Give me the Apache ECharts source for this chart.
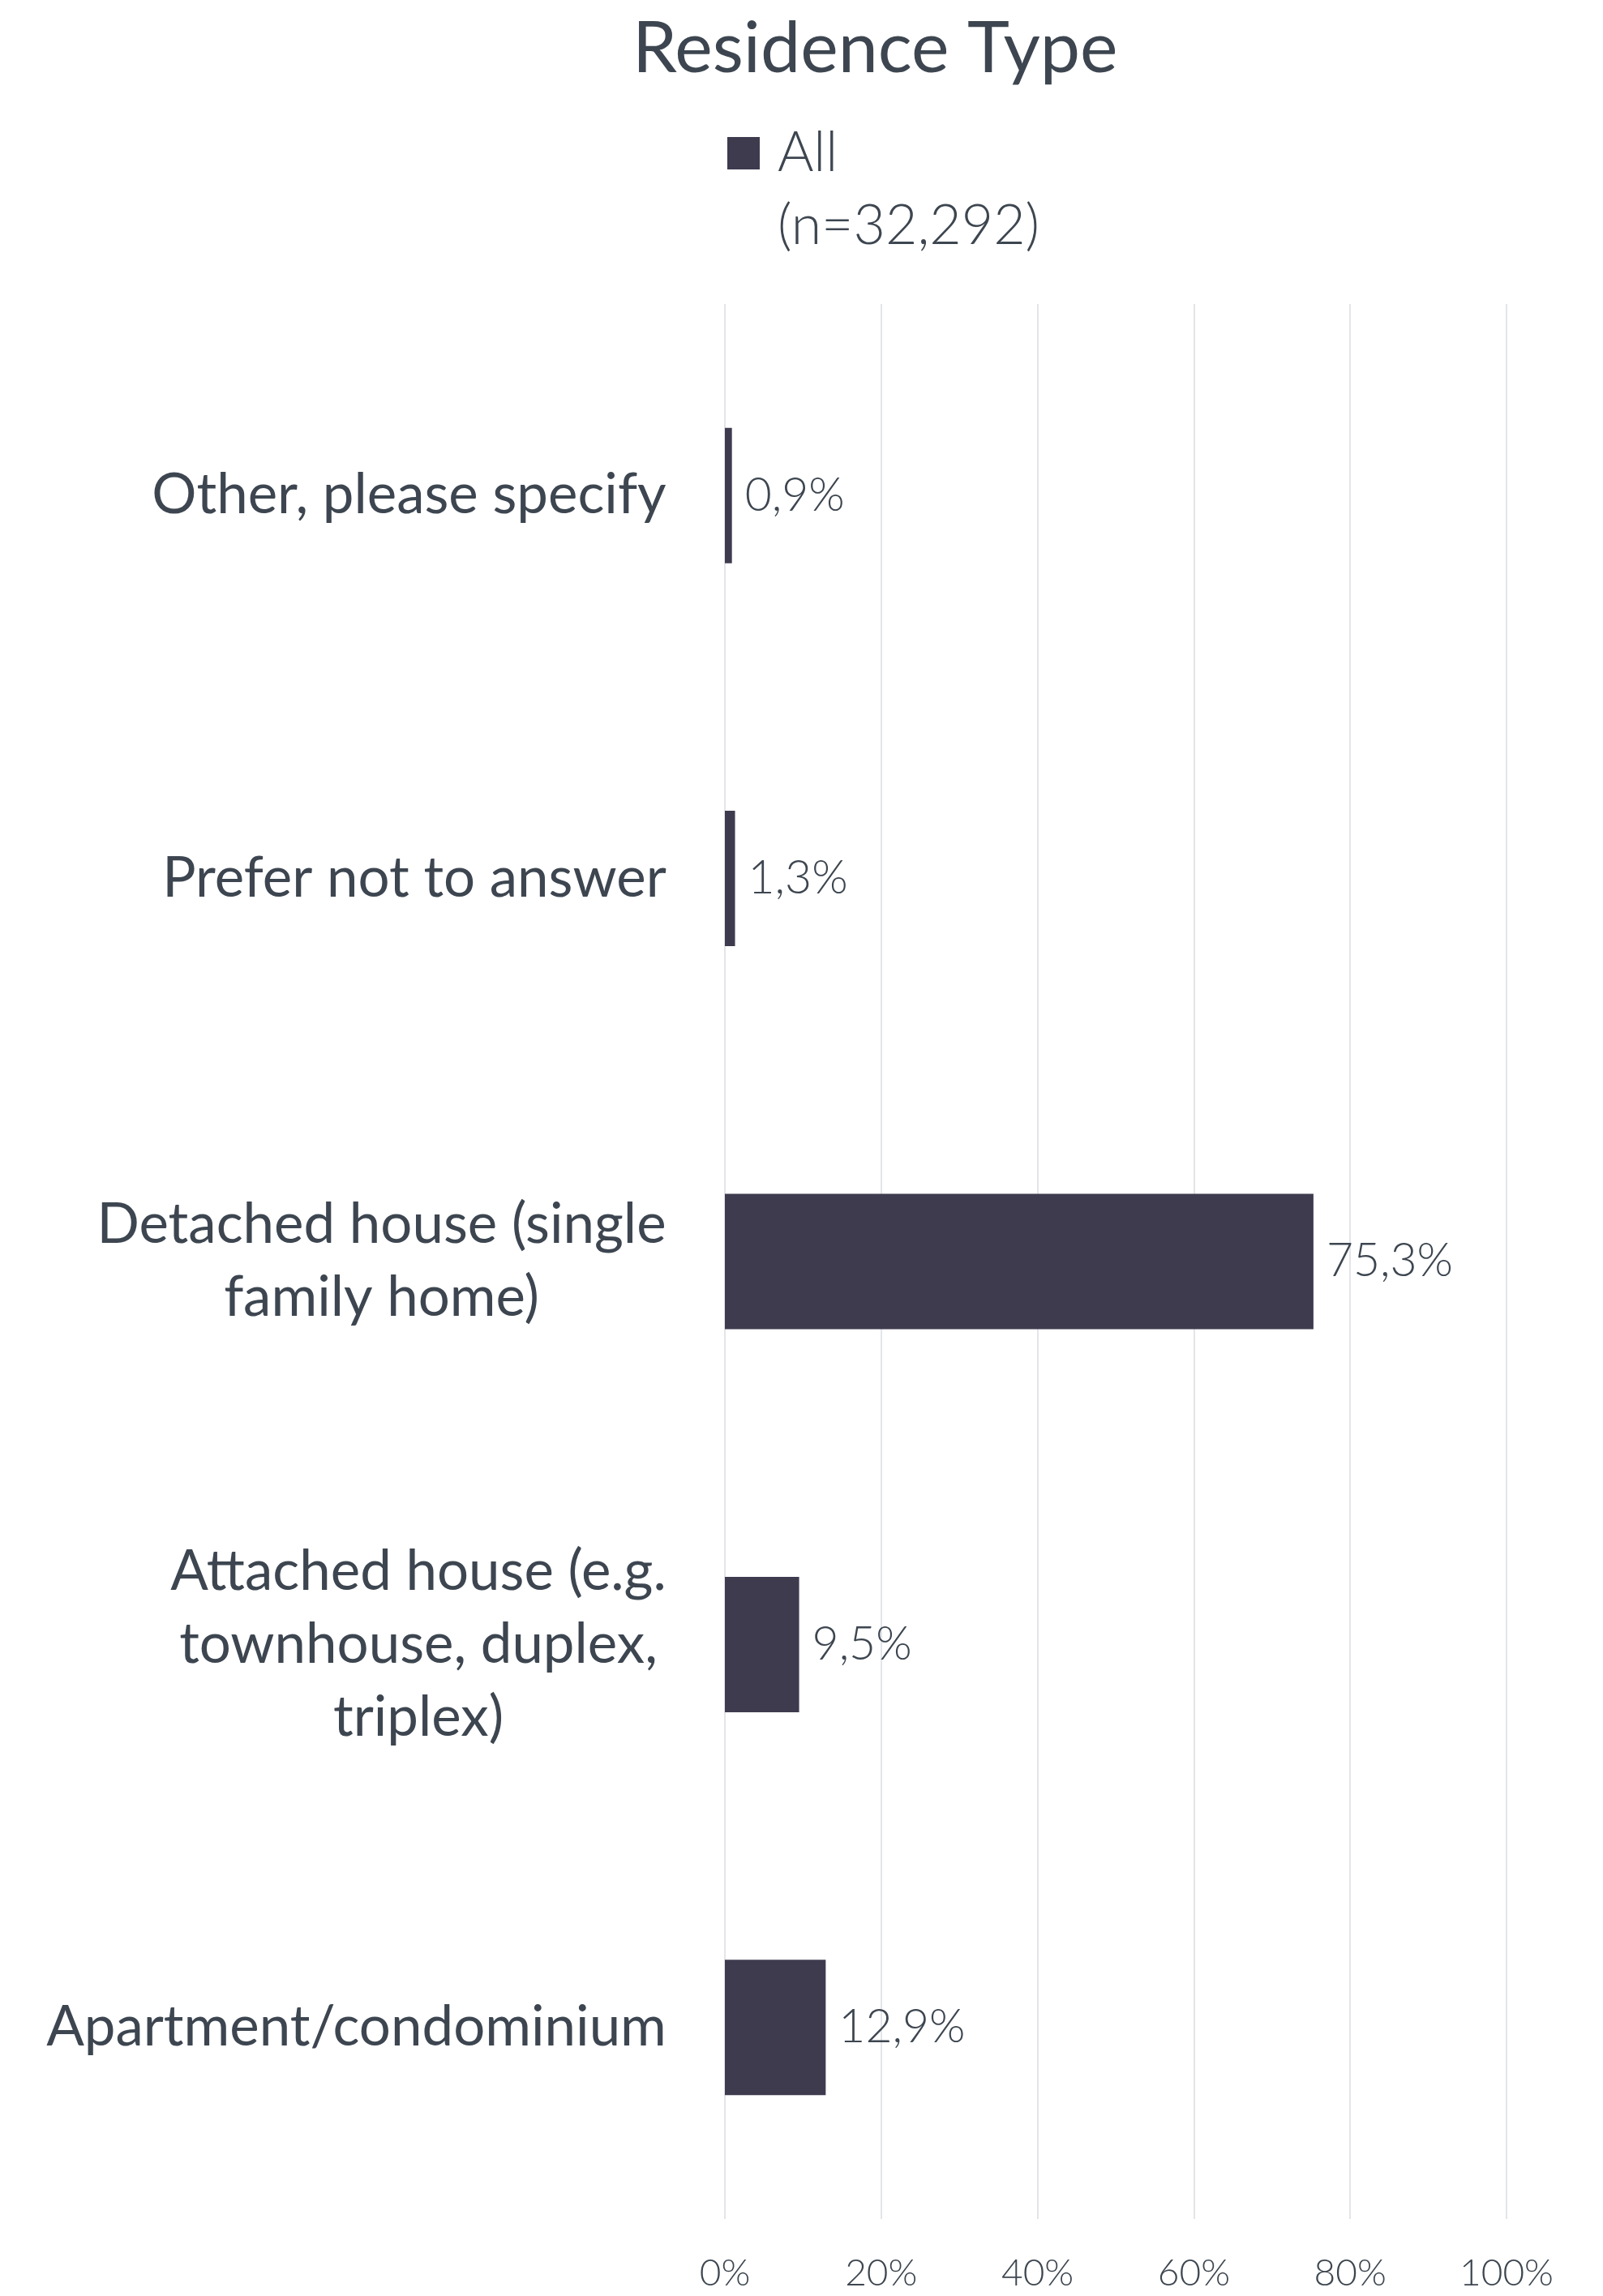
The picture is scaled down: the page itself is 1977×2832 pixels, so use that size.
<!DOCTYPE html>
<html>
<head>
<meta charset="utf-8">
<style>
  html, body { margin: 0; padding: 0; background: #ffffff; }
  #chart { width: 1977px; height: 2832px; }
</style>
<script src="https://cdn.jsdelivr.net/npm/echarts@6/dist/echarts.min.js"></script>
</head>
<body>
<div id="chart"></div>
<script>
// Residence type shares, listed top to bottom as drawn
const categories = [
  'Other, please specify',
  'Prefer not to answer',
  'Detached house (single\nfamily home)',
  'Attached house (e.g.\ntownhouse, duplex,\ntriplex)',
  'Apartment/condominium'
];
const allValues = [0.9, 1.3, 75.3, 9.5, 12.9];
const seriesName = 'All\n(n=32,292)';
const xTicks = [0, 20, 40, 60, 80, 100];

const TEXT = '#3d4650';
const BAR = '#3e3b4f';
const GRID = '#e3e5e9';
const FONT = 'Lato, "Open Sans", sans-serif';
const CAT_SIZE = 69;

// Each category label is a block whose lines are centred on each other,
// while the block itself sits right-aligned against the axis.
const measureCtx = document.createElement('canvas').getContext('2d');
measureCtx.font = CAT_SIZE + 'px ' + FONT;
const catRich = {};
categories.forEach(function (c, i) {
  const w = Math.max.apply(null, c.split('\n').map(function (s) {
    return Math.ceil(measureCtx.measureText(s).width);
  }));
  catRich['l' + i] = {
    width: w,
    align: 'center',
    fontFamily: FONT,
    fontSize: CAT_SIZE,
    lineHeight: 90,
    color: TEXT
  };
});

const chart = echarts.init(document.getElementById('chart'), null, { renderer: 'canvas' });

chart.setOption({
  backgroundColor: '#ffffff',
  animation: false,
  textStyle: { fontFamily: FONT, color: TEXT },
  title: {
    text: 'Residence Type',
    left: 780,
    top: 17,
    padding: 0,
    textStyle: { fontFamily: FONT, fontSize: 88, fontWeight: 'normal', color: TEXT }
  },
  legend: {
    left: 897,
    top: 144,
    padding: 0,
    itemWidth: 40,
    itemHeight: 130,
    // square swatch sitting level with the first text line
    icon: 'path://M0,0H40V40H0Z M0,130H0.001V130.001H0Z',
    selectedMode: false,
    textStyle: {
      fontFamily: FONT,
      fontSize: 68,
      fontWeight: 300,
      lineHeight: 90,
      color: TEXT,
      padding: [0, 0, 0, 17]
    },
    data: [seriesName]
  },
  grid: {
    left: 894,
    right: 119,
    top: 375,
    bottom: 95,
    containLabel: false
  },
  xAxis: {
    type: 'value',
    min: xTicks[0],
    max: xTicks[xTicks.length - 1],
    interval: xTicks[1] - xTicks[0],
    axisLine: { show: false },
    axisTick: { show: false },
    splitLine: { show: true, lineStyle: { color: GRID, width: 2 } },
    axisLabel: {
      formatter: '{value}%',
      fontFamily: FONT,
      fontSize: 46,
      fontWeight: 300,
      color: TEXT,
      margin: 44
    }
  },
  yAxis: {
    type: 'category',
    inverse: true,
    data: categories,
    axisLine: { show: false },
    axisTick: { show: false },
    splitLine: { show: false },
    axisLabel: {
      fontFamily: FONT,
      fontSize: CAT_SIZE,
      lineHeight: 90,
      color: TEXT,
      align: 'right',
      margin: 72,
      rich: catRich,
      formatter: function (v, i) {
        return v.split('\n').map(function (s) { return '{l' + i + '|' + s + '}'; }).join('\n');
      }
    }
  },
  series: [{
    name: seriesName,
    type: 'bar',
    data: allValues,
    barWidth: 167,
    itemStyle: { color: BAR },
    label: {
      show: true,
      position: 'right',
      distance: 16,
      fontFamily: FONT,
      fontSize: 57,
      fontWeight: 300,
      color: TEXT,
      formatter: function (p) { return p.value.toFixed(1).replace('.', ',') + '%'; }
    }
  }]
});
</script>
</body>
</html>
